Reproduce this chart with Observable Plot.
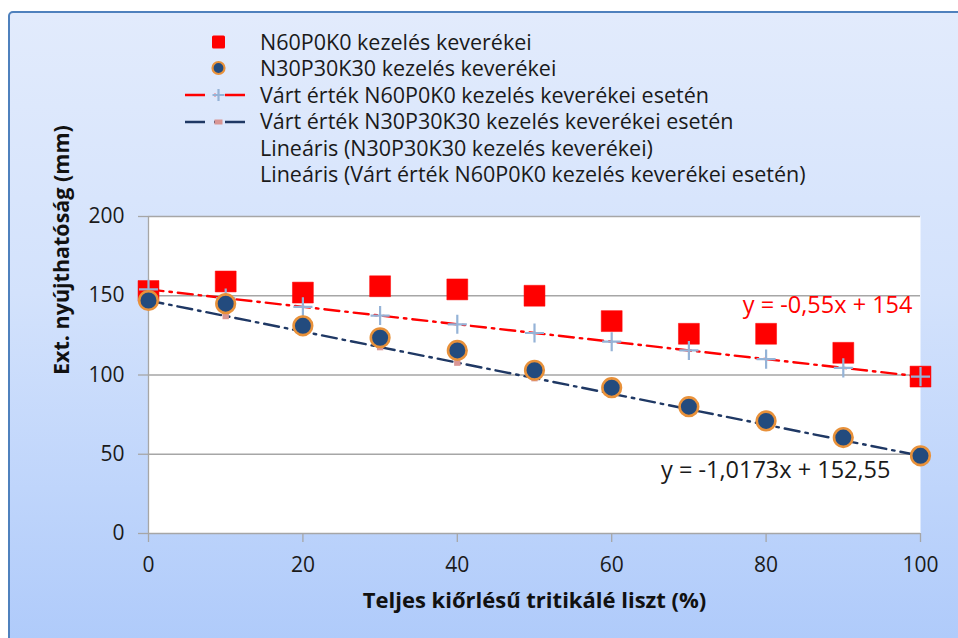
<!DOCTYPE html>
<html>
<head>
<meta charset="utf-8">
<script src="https://cdn.jsdelivr.net/npm/d3@7"></script>
<script src="https://cdn.jsdelivr.net/npm/@observablehq/plot@0.6"></script>
<style>
  html, body { margin: 0; padding: 0; background: #ffffff; }
  #wrap { position: relative; width: 958px; height: 638px; overflow: hidden; background: #ffffff; font-family: "Open Sans", sans-serif; }
  #bg { position: absolute; left: 8px; top: 11px; width: 1000px; height: 700px; border: 2.5px solid #4f81bd; border-radius: 5px;
        background: linear-gradient(to bottom, #e2ebfc 0%, #d3e2fc 40%, #a8c6fa 100%); }
  #chart { position: absolute; left: 0; top: 0; }
  #legend { position: absolute; left: 180px; top: 28.5px; }
  .row { display: flex; align-items: center; height: 26.6px; line-height: 26.6px; }
  .sym { width: 80px; height: 26px; flex: none; }
  .lab { font-size: 21.5px; color: #1a1a1a; white-space: nowrap; }
</style>
</head>
<body>
<div id="wrap">
  <div id="bg"></div>
  <div id="chart"></div>
  <div id="legend"></div>
</div>
<script>
// ---- data ----
const xValues = [0, 10, 20, 30, 40, 50, 60, 70, 80, 90, 100];
const n60p0k0 = [153, 159, 152, 156, 154, 150, 134, 126, 126, 114, 99];
const n30p30k30 = [147, 145, 131, 123.5, 115.5, 103, 92, 80, 71, 60.5, 49];
const expectedN60 = [154, 148.5, 143, 137.5, 132, 126.5, 121, 115.5, 110, 104.5, 99];
const expectedN30 = [147, 137.2, 127.4, 117.6, 107.8, 98, 88.2, 78.4, 68.6, 58.8, 49];
const yTicks = [0, 50, 100, 150, 200];
const xTicks = [0, 20, 40, 60, 80, 100];
const legendLabels = [
  "N60P0K0 kezelés keverékei",
  "N30P30K30 kezelés keverékei",
  "Várt érték N60P0K0 kezelés keverékei esetén",
  "Várt érték N30P30K30 kezelés keverékei esetén",
  "Lineáris (N30P30K30 kezelés keverékei)",
  "Lineáris (Várt érték N60P0K0 kezelés keverékei esetén)"
];
const trendRed = {slope: -0.55, intercept: 154, text: "y = -0,55x + 154"};
const trendBlack = {slope: -1.0173, intercept: 152.55, text: "y = -1,0173x + 152,55"};
const xLabel = "Teljes kiőrlésű tritikálé liszt (%)";
const yLabel = "Ext. nyújthatóság (mm)";

const RED = "#ff0000", NAVY = "#1f3864", FILLBLUE = "#234b7e", ORANGE = "#e8913a", PLUS = "#95b3d7", PINK = "#d99694", GRID = "#a6a6a6";
const dash = "15,6,2.5,6";

const toRows = (ys) => xValues.map((x, i) => ({x, y: ys[i]}));
const sq = toRows(n60p0k0), ci = toRows(n30p30k30), eR = toRows(expectedN60), eB = toRows(expectedN30);

const chart = Plot.plot({
  width: 958, height: 638,
  marginLeft: 148, marginRight: 38, marginTop: 216, marginBottom: 105,
  style: {background: "transparent", fontFamily: "Open Sans, sans-serif"},
  x: {domain: [0, 100]},
  y: {domain: [0, 200]},
  marks: [
    Plot.frame({fill: "white", stroke: null}),
    Plot.ruleY(yTicks.filter(d => d > 0), {stroke: GRID, strokeWidth: 1.3}),
    Plot.axisY({ticks: yTicks, tickSize: 10, tickPadding: 14, fontSize: 21, stroke: GRID, strokeWidth: 1.3, color: "#1a1a1a", label: null}),
    Plot.axisX({ticks: xTicks, tickSize: 9, tickPadding: 15, fontSize: 21, stroke: GRID, strokeWidth: 1.3, color: "#1a1a1a", label: null}),
    Plot.ruleX([0], {stroke: GRID, strokeWidth: 1.3}),
    Plot.ruleY([0], {stroke: GRID, strokeWidth: 1.3}),
    Plot.dot(sq, {x: "x", y: "y", symbol: "square", r: 11.8, fill: RED, stroke: RED, strokeWidth: 0.5, strokeLinejoin: "round"}),
    Plot.line(eR, {x: "x", y: "y", stroke: RED, strokeWidth: 2.4, strokeDasharray: dash}),
    Plot.dot(eR, {x: "x", y: "y", symbol: "plus", r: 6.2, stroke: PLUS, strokeWidth: 2.2}),
    Plot.line(eB, {x: "x", y: "y", stroke: NAVY, strokeWidth: 2.4, strokeDasharray: dash}),
    Plot.dot(eB, {x: "x", y: "y", symbol: "square", r: 3.6, fill: PINK, stroke: "none"}),
    Plot.dot(ci, {x: "x", y: "y", r: 9.3, fill: FILLBLUE, stroke: ORANGE, strokeWidth: 2.6}),
    Plot.text([trendRed], {x: 100, y: d => d.slope * 100 + d.intercept, text: "text", textAnchor: "end", dx: -8, dy: -71, fill: RED, fontSize: 23.5}),
    Plot.text([trendBlack], {x: 100, y: d => d.slope * 100 + d.intercept, text: "text", textAnchor: "end", dx: -30, dy: 18, fill: "#1a1a1a", fontSize: 23.5}),
    Plot.text([xLabel], {x: 50, frameAnchor: "bottom", dy: 74, text: d => d, fontSize: 22, fontWeight: "bold", fill: "#111"}),
    Plot.text([yLabel], {y: 100, frameAnchor: "left", dx: -86, rotate: -90, text: d => d, fontSize: 21.5, fontWeight: "bold", fill: "#111"})
  ]
});
document.getElementById("chart").appendChild(chart);

// legend
const symbols = [
  `<rect x="32" y="6.5" width="13" height="13" rx="1.5" fill="${RED}"/>`,
  `<circle cx="38.5" cy="13" r="6" fill="${FILLBLUE}" stroke="${ORANGE}" stroke-width="2.2"/>`,
  `<line x1="5" y1="13" x2="72" y2="13" stroke="${RED}" stroke-width="2.4" stroke-dasharray="20,9,2,9"/><path d="M38.5 7V19M32.5 13H44.5" stroke="${PLUS}" stroke-width="2.2"/>`,
  `<line x1="5" y1="13" x2="72" y2="13" stroke="${NAVY}" stroke-width="2.4" stroke-dasharray="20,9,2,9"/><rect x="34.5" y="10.5" width="8" height="5" fill="${PINK}"/>`,
  ``, ``
];
const leg = document.getElementById("legend");
legendLabels.forEach((t, i) => {
  const row = document.createElement("div");
  row.className = "row";
  row.innerHTML = `<svg class="sym" viewBox="0 0 80 26" width="80" height="26">${symbols[i]}</svg><span class="lab">${t}</span>`;
  leg.appendChild(row);
});
</script>
</body>
</html>
